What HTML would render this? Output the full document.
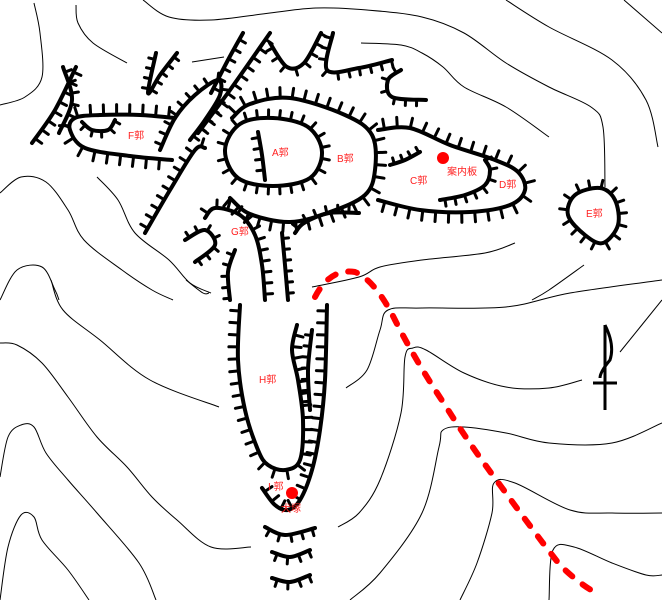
<!DOCTYPE html>
<html><head><meta charset="utf-8"><style>
html,body{margin:0;padding:0;background:#fff;}
svg{display:block}
text{font-family:"Liberation Sans","Noto Sans CJK JP",sans-serif;font-size:10px;fill:#ff2020}
</style></head><body>
<svg id="s" width="662" height="600" viewBox="0 0 662 600" xmlns="http://www.w3.org/2000/svg">
<g id="thin" fill="none" stroke="#000" stroke-width="1"></g>
<g id="heavy" fill="none" stroke="#000" stroke-width="4" stroke-linecap="round" stroke-linejoin="round"></g>
<path d="M315,297 Q330,268 355,272 Q375,280 395,320 Q415,360 445,405 Q470,445 500,485 Q540,540 560,565 Q580,585 600,595" fill="none" stroke="#f00" stroke-width="6" stroke-dasharray="9 13" stroke-linecap="round"/>
<circle cx="443" cy="158" r="6" fill="#f00"/>
<circle cx="292" cy="493" r="6" fill="#f00"/>
<g stroke="#000" stroke-width="3" fill="none">
<path d="M605,325 L605,410 M593,383 L617,383 M605,325 Q615,345 610,360 Q600,372 600,378"/>
</g>
<text x="272" y="156">A郭</text>
<text x="337" y="162">B郭</text>
<text x="410" y="184">C郭</text>
<text x="447" y="175">案内板</text>
<text x="499" y="188">D郭</text>
<text x="586" y="217">E郭</text>
<text x="128" y="139">F郭</text>
<text x="231" y="235">G郭</text>
<text x="259" y="383">H郭</text>
<text x="268" y="490">I 郭</text>
<text x="281" y="512">犬塚</text>
</svg>
<script>
var NS="http://www.w3.org/2000/svg";
function cr(p,closed){
 var n=p.length,d="M"+p[0][0]+","+p[0][1];
 var P=function(i){ if(closed) return p[(i+n)%n]; return p[Math.max(0,Math.min(n-1,i))];};
 var m=closed?n:n-1;
 for(var i=0;i<m;i++){var p0=P(i-1),p1=P(i),p2=P(i+1),p3=P(i+2);
  d+=" C"+(p1[0]+(p2[0]-p0[0])/6)+","+(p1[1]+(p2[1]-p0[1])/6)+" "+(p2[0]-(p3[0]-p1[0])/6)+","+(p2[1]-(p3[1]-p1[1])/6)+" "+p2[0]+","+p2[1];}
 if(closed)d+="Z";return d;}
var thin=[
[[143,0],[169,17],[211,20],[270,13],[316,8],[367,10],[422,17],[464,33],[506,63],[549,87],[591,107],[603,127],[605,187]],
[[361,43],[401,45],[422,53],[443,67],[464,87],[506,107],[549,137]],
[[506,0],[549,27],[612,60],[646,100],[658,147]],
[[624,0],[662,33]],
[[76,5],[78,23],[93,43],[127,63]],
[[34,3],[40,33],[42,77],[25,97],[0,105]],
[[192,62],[224,57]],
[[0,193],[21,177],[46,182],[68,210],[84,240],[122,270],[152,290],[173,300]],
[[97,177],[118,200],[135,233],[169,260],[190,283],[211,293]],
[[0,300],[17,270],[42,267],[55,290],[59,300]],
[[515,243],[485,253],[422,260],[380,267],[359,277],[312,287]],
[[584,265],[549,290],[532,300]],
[[51,280],[63,310],[100,340],[150,380],[219,407]],
[[0,343],[17,345],[42,363],[68,397],[97,437],[127,467],[152,497],[177,520],[211,547],[251,547]],
[[0,477],[8,437],[21,425],[34,427],[46,453],[68,480],[97,513],[139,563],[156,600]],
[[0,600],[8,547],[21,515],[34,517],[42,540],[68,570],[89,600]],
[[346,388],[367,370],[380,330],[388,310],[422,308],[506,307],[570,293],[662,280]],
[[338,527],[359,513],[380,480],[401,413],[405,357],[413,348],[426,350],[464,373],[506,387],[549,388],[582,380]],
[[620,352],[662,300]],
[[350,600],[380,573],[422,513],[439,447],[443,430],[464,427],[506,433],[549,443],[612,443],[662,423]],
[[460,600],[477,563],[492,513],[494,483],[515,483],[570,510],[612,513],[662,513]],
[[549,600],[553,550],[574,547],[612,563],[646,575],[662,575]],
[[186,280],[203,293],[209,293]]
];
var heavy=[
[[[225,150],[240,124],[273,118],[308,127],[322,152],[310,178],[273,186],[238,178]],1,1,8,11],
[[[258,132],[262,155],[265,180]],0,-1,7,11],
[[[232,118],[250,104],[290,98],[345,115],[372,135],[375,170],[365,195],[330,212],[290,222],[250,214],[230,198]],0,1,10,12],
[[[378,130],[410,128],[450,145],[495,160],[518,172],[525,190],[510,205],[470,212],[420,210],[378,200]],0,1,10,13],
[[[390,165],[405,160],[420,152]],0,1,6,9],
[[[440,200],[465,195],[485,185],[490,170],[485,160]],0,-1,7,10],
[[[575,195],[600,188],[615,200],[618,225],[603,243],[585,235],[568,215]],1,1,8,11],
[[[175,118],[140,115],[100,115],[75,118],[70,130],[85,148],[130,156],[172,160]],0,-1,10,13],
[[[82,122],[92,130],[108,130],[115,120]],0,-1,6,9],
[[[160,150],[175,118],[195,95],[218,80],[220,95],[205,120],[190,140]],0,1,7,11],
[[[145,233],[170,190],[195,150],[205,148]],0,1,8,11],
[[[198,133],[230,90],[270,33]],0,-1,8,11],
[[[211,93],[228,60],[243,33]],0,-1,7,11],
[[[32,143],[55,110],[76,67]],0,-1,8,11],
[[[63,67],[72,100],[59,133]],0,1,7,11],
[[[177,53],[160,75],[148,93],[156,53]],0,1,6,10],
[[[270,43],[287,67],[304,63],[321,33]],0,-1,7,11],
[[[333,33],[327,70],[359,68],[392,60]],0,-1,7,11],
[[[401,70],[388,80],[392,97],[426,100]],0,-1,6,11],
[[[205,218],[215,208],[240,215],[255,235],[262,265],[265,300]],0,1,8,11],
[[[185,240],[205,230],[215,245],[195,262]],0,1,6,10],
[[[235,250],[228,272],[230,300]],0,-1,6,11],
[[[282,233],[285,265],[288,300]],0,1,6,11],
[[[295,233],[304,223],[329,213],[359,213]],0,1,7,11],
[[[240,305],[238,360],[245,410],[258,450],[268,465],[285,470],[300,460],[303,420],[298,380],[292,350],[297,325]],0,-1,9,12],
[[[312,330],[308,370],[310,410]],0,-1,6,11],
[[[327,305],[325,380],[320,430],[312,470],[300,500],[288,510],[275,505],[262,488]],0,-1,9,12],
[[[265,527],[285,535],[315,528]],0,-1,7,11],
[[[272,552],[290,557],[310,550]],0,-1,7,11],
[[[272,578],[290,582],[310,575]],0,-1,7,11]
];
var gt=document.getElementById("thin"),gh=document.getElementById("heavy");
thin.forEach(function(p){var e=document.createElementNS(NS,"path");e.setAttribute("d",cr(p,false));gt.appendChild(e);});
heavy.forEach(function(h){
 var e=document.createElementNS(NS,"path");e.setAttribute("d",cr(h[0],!!h[1]));gh.appendChild(e);
 var L=e.getTotalLength(),s=h[2],len=h[3],st=h[4],d="";
 for(var t=st/2;t<L;t+=st){var a=e.getPointAtLength(t),b=e.getPointAtLength(Math.min(L,t+1));
  var dx=b.x-a.x,dy=b.y-a.y,m=Math.sqrt(dx*dx+dy*dy)||1;
  var nx=dy/m*s,ny=-dx/m*s;
  d+="M"+a.x.toFixed(1)+","+a.y.toFixed(1)+"L"+(a.x+nx*len).toFixed(1)+","+(a.y+ny*len).toFixed(1);}
 var k=document.createElementNS(NS,"path");k.setAttribute("d",d);k.setAttribute("stroke-width","3");gh.appendChild(k);
});
</script>
</body></html>
